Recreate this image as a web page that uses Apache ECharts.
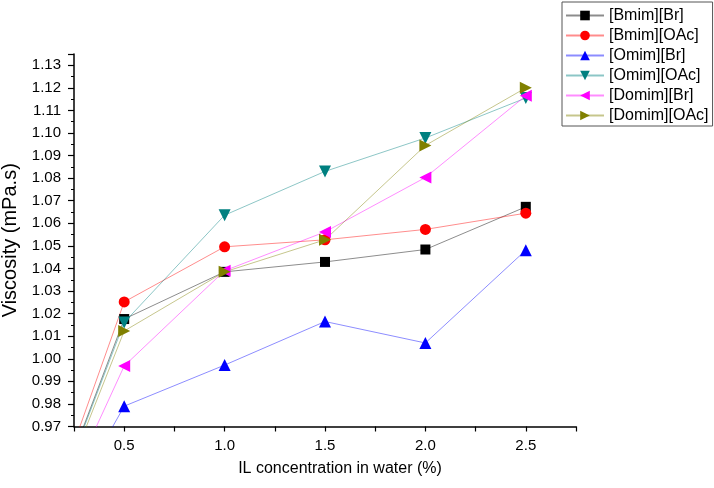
<!DOCTYPE html>
<html>
<head>
<meta charset="utf-8">
<script src="https://cdn.jsdelivr.net/npm/echarts@6/dist/echarts.min.js"></script>
<style>html,body{margin:0;padding:0;background:#fff;}#c{width:714px;height:488px;}</style>
</head>
<body>
<div id="c"></div>
<script>
const xValues = [0, 0.5, 1.0, 1.5, 2.0, 2.5];
const seriesNames = ['[Bmim][Br]', '[Bmim][OAc]', '[Omim][Br]', '[Omim][OAc]', '[Domim][Br]', '[Domim][OAc]'];
const bmimBr   = [0.900, 1.0176, 1.0385, 1.0429, 1.0484, 1.0673];
const bmimOAc  = [0.900, 1.0252, 1.0496, 1.0527, 1.0573, 1.0645];
const omimBr   = [0.900, 0.9790, 0.9972, 1.0165, 1.0070, 1.0481];
const omimOAc  = [0.900, 1.0161, 1.0636, 1.0830, 1.0978, 1.1155];
const domimBr  = [0.900, 0.9968, 1.0390, 1.0562, 1.0803, 1.1165];
const domimOAc = [0.900, 1.0123, 1.0385, 1.0527, 1.0945, 1.1200];
const xTickLabels = ['0.5', '1.0', '1.5', '2.0', '2.5'];

const allValues = [bmimBr, bmimOAc, omimBr, omimOAc, domimBr, domimOAc];
const colors = ['#000000', '#ff0000', '#0000ff', '#008080', '#ff00ff', '#808000'];
const symbols = ['rect', 'circle', 'triangle', 'triangle', 'triangle', 'triangle'];
const rotations = [0, 0, 0, 180, 90, -90];
const sizes = [10, 11, 12, 12, 12, 12];

const series = seriesNames.map((name, i) => ({
  name: name,
  type: 'line',
  data: xValues.map((x, j) => [x, allValues[i][j]]),
  symbol: symbols[i],
  symbolRotate: rotations[i],
  symbolSize: sizes[i],
  showAllSymbol: true,
  clip: true,
  itemStyle: { color: colors[i], opacity: 1 },
  lineStyle: { color: colors[i], width: 1, opacity: 0.45 },
  emphasis: { disabled: true },
  animation: false
}));

const chart = echarts.init(document.getElementById('c'), null, { renderer: 'canvas' });
chart.setOption({
  backgroundColor: '#ffffff',
  animation: false,
  textStyle: { fontFamily: 'Liberation Sans, Arial, sans-serif' },
  grid: { left: 74, right: 138, top: 54, bottom: 61.5, containLabel: false, outerBoundsMode: 'none' },
  legend: {
    orient: 'vertical',
    left: 562, top: 2,
    padding: [5, 4, 2, 3],
    itemWidth: 38, itemHeight: 12, itemGap: 3,
    borderColor: '#555', borderWidth: 1,
    textStyle: { fontSize: 16, lineHeight: 17, color: '#000', fontFamily: 'Liberation Sans, Arial, sans-serif' },
    data: seriesNames
  },
  xAxis: {
    type: 'value',
    min: 0.25, max: 2.75, interval: 0.25,
    name: 'IL concentration in water (%)',
    nameLocation: 'middle', nameGap: 34,
    nameTextStyle: { fontSize: 16, color: '#000', padding: [0, 0, 0, 30] },
    axisLine: { lineStyle: { color: '#000', width: 1.5 } },
    axisTick: { show: true, inside: false, length: 5, lineStyle: { color: '#000', width: 1.2 } },
    axisLabel: {
      fontSize: 15, color: '#000', margin: 12,
      formatter: function (v) {
        const idx = xTickLabels.indexOf(v.toFixed(1));
        return (Math.abs(v * 2 - Math.round(v * 2)) < 1e-6 && idx >= 0) ? xTickLabels[idx] : '';
      }
    },
    splitLine: { show: false }
  },
  yAxis: {
    type: 'value',
    min: 0.97, max: 1.135, interval: 0.01,
    name: 'Viscosity (mPa.s)',
    nameLocation: 'middle', nameGap: 49, nameRotate: 90,
    nameTextStyle: { fontSize: 20, color: '#000' },
    axisLine: { show: true, lineStyle: { color: '#000', width: 1.5 } },
    axisTick: { show: true, inside: false, length: 6, lineStyle: { color: '#000', width: 1.2 } },
    minorTick: { show: true, splitNumber: 2, length: 3, lineStyle: { color: '#000', width: 1 } },
    axisLabel: {
      fontSize: 15, color: '#000', margin: 13,
      formatter: function (v) {
        if (Math.abs(v * 100 - Math.round(v * 100)) > 1e-6) return '';
        return v.toFixed(2);
      }
    },
    splitLine: { show: false }
  },
  series: series
});
</script>
</body>
</html>
